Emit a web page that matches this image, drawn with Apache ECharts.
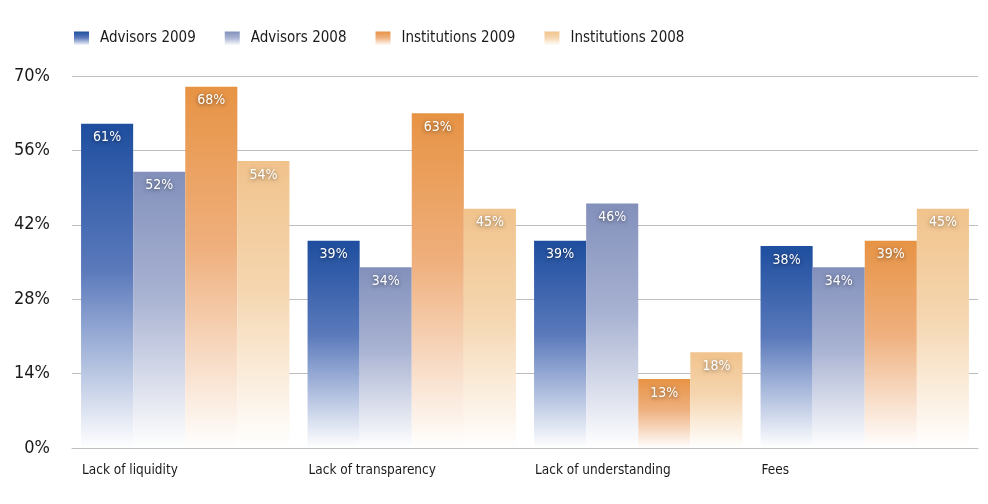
<!DOCTYPE html>
<html>
<head>
<meta charset="utf-8">
<script src="https://cdn.jsdelivr.net/npm/echarts@6/dist/echarts.min.js"></script>
<style>
  html, body { margin: 0; padding: 0; background: #fff; }
  #chart { width: 988px; height: 504px; }
</style>
</head>
<body>
<div id="chart"></div>
<script>
// categories and values
var categories = ['Lack of liquidity', 'Lack of transparency', 'Lack of understanding', 'Fees']
var advisors2009 = [61, 39, 39, 38]
var advisors2008 = [52, 34, 46, 34]
var institutions2009 = [68, 63, 13, 39]
var institutions2008 = [54, 45, 18, 45]
var yTicks = [0, 14, 28, 42, 56, 70]

var FONT = '"DejaVu Sans Condensed", "Liberation Sans Narrow", sans-serif'

// vertical fade from the top colour to white
function fade (top, mid) {
  return new echarts.graphic.LinearGradient(0, 0, 0, 1, [
    {offset: 0, color: top},
    {offset: 0.45, color: mid},
    {offset: 1, color: '#ffffff'}
  ])
}

function makeSeries (name, data, top, mid) {
  return {
    name: name,
    type: 'bar',
    data: data,
    barGap: 0,
    barCategoryGap: '8%',
    itemStyle: {color: fade(top, mid)},
    label: {
      show: true,
      position: 'insideTop',
      distance: 7,
      formatter: '{c}%',
      color: '#fff',
      fontFamily: FONT,
      fontSize: 14,
      textShadowColor: 'rgba(0,0,0,0.55)',
      textShadowBlur: 4,
      textShadowOffsetY: 1
    }
  }
}

var chart = echarts.init(document.getElementById('chart'))
chart.setOption({
  animation: false,
  backgroundColor: '#fff',
  legend: {
    left: 69,
    top: 26,
    icon: 'rect',
    itemWidth: 15,
    itemHeight: 14,
    itemGap: 29,
    textStyle: {
      fontFamily: FONT,
      fontSize: 15,
      color: '#1a1a1a',
      padding: [0, 0, 0, 6]
    },
    data: ['Advisors 2009', 'Advisors 2008', 'Institutions 2009', 'Institutions 2008']
  },
  grid: {left: 72, right: 10, top: 76, bottom: 56, containLabel: false},
  xAxis: [{
    type: 'category',
    data: categories,
    axisLine: {lineStyle: {color: '#bdbdbd', width: 1}},
    axisTick: {show: false},
    axisLabel: {show: false}
  }, {
    // label axis: one tick at each category's left edge, text left-aligned
    type: 'category',
    position: 'bottom',
    boundaryGap: false,
    data: categories.concat(['']),
    axisLine: {show: false},
    axisTick: {show: false},
    axisLabel: {
      align: 'left',
      margin: 15,
      padding: [0, 0, 0, 10],
      fontFamily: FONT,
      fontSize: 13.5,
      color: '#1a1a1a'
    }
  }],
  yAxis: {
    type: 'value',
    min: yTicks[0],
    max: yTicks[yTicks.length - 1],
    interval: 14,
    axisLine: {show: false},
    axisTick: {show: false},
    splitLine: {lineStyle: {color: '#bdbdbd', width: 1}},
    axisLabel: {
      formatter: '{value}%',
      margin: 22,
      fontFamily: FONT,
      fontSize: 18,
      color: '#1a1a1a'
    }
  },
  series: [
    makeSeries('Advisors 2009', advisors2009, '#1e4e9f', '#5a79bb'),
    makeSeries('Advisors 2008', advisors2008, '#8290bb', '#a8b2d2'),
    makeSeries('Institutions 2009', institutions2009, '#e79344', '#efb07e'),
    makeSeries('Institutions 2008', institutions2008, '#f1c38c', '#f5d6b0')
  ]
})
</script>
</body>
</html>
